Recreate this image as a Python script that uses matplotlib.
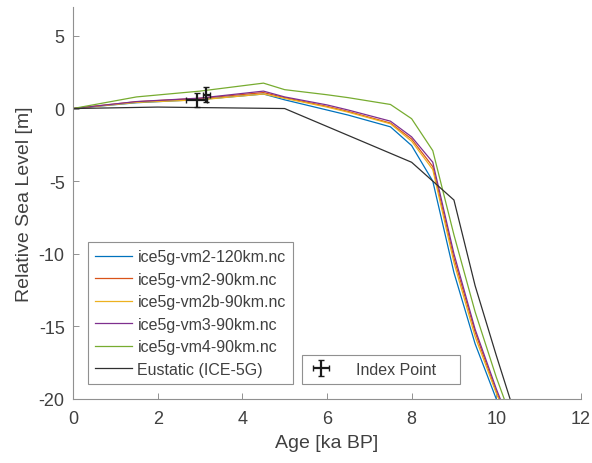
import matplotlib
matplotlib.use("Agg")
import matplotlib.pyplot as plt

plt.rcParams['font.family'] = ['Liberation Sans', 'DejaVu Sans']
plt.rcParams['axes.unicode_minus'] = False

# ---- data ----
model_ages = [0, 1.5, 3, 4.5, 5, 6, 6.5, 7.5, 8, 8.5, 9, 9.5, 10, 10.5]
vm2_120 = [0, 0.40, 0.62, 1.0, 0.6, -0.1, -0.45, -1.26, -2.55, -5.0, -11.3, -16.2, -20.0, -23.5]
vm2_90 = [0, 0.47, 0.70, 1.1, 0.75, 0.15, -0.2, -1.0, -2.1, -4.0, -10.3, -15.4, -19.5, -23.0]
vm2b_90 = [0, 0.42, 0.60, 1.0, 0.7, 0.1, -0.25, -1.05, -2.25, -4.2, -10.6, -15.7, -19.6, -23.0]
vm3_90 = [0, 0.48, 0.72, 1.2, 0.8, 0.25, -0.1, -0.87, -1.95, -3.7, -10.0, -15.2, -19.3, -23.0]
vm4_90 = [0, 0.80, 1.20, 1.75, 1.3, 0.95, 0.75, 0.28, -0.7, -2.9, -8.7, -14.0, -18.5, -22.5]

eustatic_ages = [0, 2, 5, 8, 9, 9.5, 10, 10.5]
eustatic_rsl = [0, 0.1, 0.0, -3.7, -6.3, -12.2, -17.0, -21.6]

model_names = ['ice5g-vm2-120km.nc', 'ice5g-vm2-90km.nc', 'ice5g-vm2b-90km.nc',
               'ice5g-vm3-90km.nc', 'ice5g-vm4-90km.nc']
eustatic_name = 'Eustatic (ICE-5G)'

index_age = [2.92, 3.15]
index_rsl = [0.6, 0.95]
index_age_err = [0.25, 0.08]
index_rsl_err = [0.5, 0.5]

# ---- plot ----
fig = plt.figure(figsize=(5.92, 4.64), dpi=100)
ax = fig.add_axes([0.1233, 0.138, 0.858, 0.845])

colors = ['#0072BD', '#D95319', '#EDB120', '#7E2F8E', '#77AC30']
series = [vm2_120, vm2_90, vm2b_90, vm3_90, vm4_90]
lines = []
for s, c, n in zip(series, colors, model_names):
    l, = ax.plot(model_ages, s, color=c, lw=0.9, label=n)
    lines.append(l)
l, = ax.plot(eustatic_ages, eustatic_rsl, color='#303030', lw=0.9, label=eustatic_name)
lines.append(l)

eb = ax.errorbar(index_age, index_rsl, xerr=index_age_err, yerr=index_rsl_err,
                 fmt='none', ecolor='#1a1a1a', elinewidth=1.6, capsize=2.5,
                 label='Index Point')

ax.set_xlim(0, 12)
ax.set_ylim(-20, 7)
ax.set_xticks([0, 2, 4, 6, 8, 10, 12])
ax.set_yticks([-20, -15, -10, -5, 0, 5])

txtc = '#404040'
ax.set_xlabel('Age [ka BP]', fontsize=14, color=txtc, labelpad=5)
ax.set_ylabel('Relative Sea Level [m]', fontsize=14, color=txtc, labelpad=4)
ax.tick_params(direction='in', labelsize=13, colors='#808080', labelcolor=txtc,
               length=4, width=0.6)
ax.tick_params(axis='x', pad=8)
ax.tick_params(axis='y', pad=6)
for side in ['top', 'right']:
    ax.spines[side].set_visible(False)
for side in ['left', 'bottom']:
    ax.spines[side].set_color('#909090')
    ax.spines[side].set_linewidth(0.8)

leg1 = ax.legend(handles=lines, loc='lower left', bbox_to_anchor=(0.0295, 0.038),
                 fontsize=11.5, frameon=True, fancybox=False, framealpha=1,
                 edgecolor='#909090', handlelength=2.3, handletextpad=0.35,
                 borderpad=0.45, labelspacing=0.47, borderaxespad=0)
for t in leg1.get_texts():
    t.set_color(txtc)
leg1.get_frame().set_linewidth(0.8)
ax.add_artist(leg1)

leg2 = ax.legend(handles=[eb], loc='lower left',
                 bbox_to_anchor=(0.451, 0.038, 0.311, 0.07), mode='expand',
                 fontsize=11.5, frameon=True, fancybox=False, framealpha=1,
                 edgecolor='#909090', handlelength=1.5, handletextpad=1.4,
                 borderpad=0.45, borderaxespad=0)
for t in leg2.get_texts():
    t.set_color(txtc)
leg2.get_frame().set_linewidth(0.8)

fig.savefig('out.png', dpi=100)
